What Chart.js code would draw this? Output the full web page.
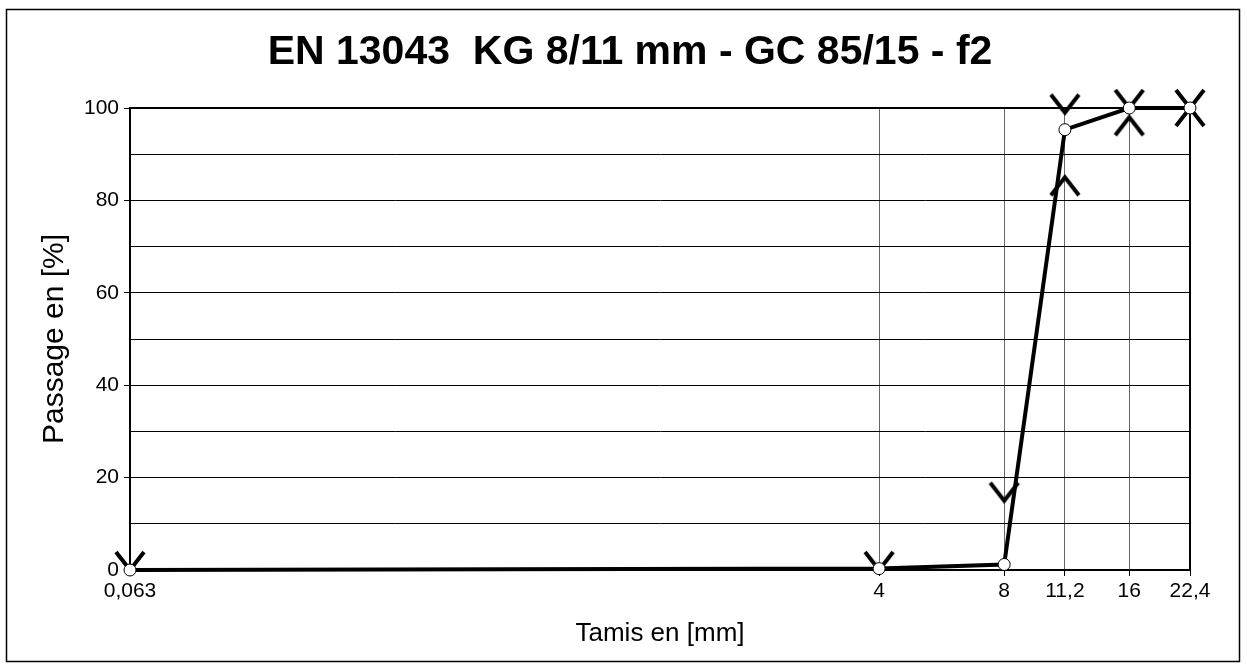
<!DOCTYPE html>
<html>
<head>
<meta charset="utf-8">
<script src="https://cdn.jsdelivr.net/npm/chart.js@4"></script>
<style>
  body { margin: 0; background: #fff; }
  canvas { display: block; }
</style>
</head>
<body>
<canvas id="myChart" width="1247" height="666"></canvas>
<script>
// sieves and values
var chartTitle = 'EN 13043  KG 8/11 mm - GC 85/15 - f2';
var sieves = [0.063, 4, 8, 11.2, 16, 22.4];
var sieveLabels = ["0,063", "4", "8", "11,2", "16", "22,4"];
var passing = [0, 0.3, 1.2, 95.3, 100, 100];
var upperLimit = [0, 0, 15, 99, 100, 100];
var lowerLimit = [null, null, null, 85, 98, 100];

// V and ^ marks for the limits
function limitMark(down) {
  var c = document.createElement('canvas');
  c.width = 40; c.height = 40;
  var g = c.getContext('2d');
  g.strokeStyle = '#000';
  g.lineWidth = 4;
  g.beginPath();
  if (down) {
    g.moveTo(6, 2); g.lineTo(20, 20); g.lineTo(34, 2);
  } else {
    g.moveTo(6, 38); g.lineTo(20, 20); g.lineTo(34, 38);
  }
  g.stroke();
  return c;
}

function pts(ys) {
  return sieves.map(function (x, i) { return { x: x, y: ys[i] }; }).filter(function (p) { return p.y !== null; });
}

var frame = {
  id: 'frame',
  beforeDraw: function (chart) {
    var g = chart.ctx;
    g.save();
    g.strokeStyle = '#000';
    g.lineWidth = 1.5;
    g.strokeRect(6.5, 9.5, 1233, 652);
    g.fillStyle = '#000';
    g.font = 'bold 41px "Liberation Sans"';
    g.textAlign = 'center';
    g.textBaseline = 'middle';
    g.fillText(chartTitle, 630, 53);
    g.restore();
  },
  beforeDatasetsDraw: function (chart) {
    var a = chart.chartArea, g = chart.ctx;
    g.save();
    g.strokeStyle = '#000';
    g.lineWidth = 2;
    g.strokeRect(a.left, a.top, a.right - a.left, a.bottom - a.top);
    g.restore();
  }
};

var config = {
  type: 'line',
  data: {
    datasets: [{
      label: 'Passage',
      data: pts(passing),
      borderColor: '#000',
      borderWidth: 4,
      pointRadius: 6,
      pointBackgroundColor: '#fff',
      pointBorderColor: '#000',
      pointBorderWidth: 1,
      tension: 0,
      clip: false
    }, {
      label: 'max',
      data: pts(upperLimit),
      showLine: false,
      pointStyle: limitMark(true),
      clip: false
    }, {
      label: 'min',
      data: pts(lowerLimit),
      showLine: false,
      pointStyle: limitMark(false),
      clip: false
    }]
  },
  options: {
    responsive: false,
    animation: false,
    layout: { padding: { left: 0, top: 108, right: 57, bottom: 0 } },
    plugins: {
      legend: { display: false },
      tooltip: { enabled: false },
      title: { display: false }
    },
    scales: {
      x: {
        type: 'logarithmic',
        min: 0.063,
        max: 22.4,
        afterBuildTicks: function (scale) {
          scale.ticks = sieves.map(function (v) { return { value: v }; });
        },
        afterFit: function (scale) {
          scale.height = 96;
          scale.paddingLeft = 0;
          scale.paddingRight = 0;
        },
        ticks: {
          autoSkip: false,
          maxRotation: 0,
          color: '#000',
          padding: 3,
          font: { family: 'Liberation Sans', size: 21 },
          callback: function (v, i) { return sieveLabels[i]; }
        },
        grid: { color: '#666', lineWidth: 1, tickLength: 6, tickColor: '#000' },
        border: { color: '#000', width: 2 },
        title: {
          display: true,
          text: 'Tamis en [mm]',
          color: '#000',
          font: { family: 'Liberation Sans', size: 26 },
          padding: { top: 0, bottom: 17 }
        }
      },
      y: {
        min: 0,
        max: 100,
        afterFit: function (scale) {
          scale.width = 130;
          scale.paddingTop = 0;
          scale.paddingBottom = 0;
        },
        ticks: {
          stepSize: 10,
          color: '#000',
          padding: 5,
          font: { family: 'Liberation Sans', size: 21 },
          callback: function (v) { return v % 20 === 0 ? v : ''; }
        },
        grid: {
          color: '#000',
          lineWidth: 1,
          tickLength: 6,
          tickColor: function (ctx) { return ctx.tick && ctx.tick.value % 20 === 0 ? '#000' : 'rgba(0,0,0,0)'; }
        },
        border: { color: '#000', width: 2 },
        title: {
          display: true,
          text: 'Passage en [%]',
          color: '#000',
          font: { family: 'Liberation Sans', size: 30 },
          padding: { top: 37, bottom: 0 }
        }
      }
    }
  },
  plugins: [frame]
};

var myChart = new Chart(document.getElementById('myChart'), config);
</script>
</body>
</html>
